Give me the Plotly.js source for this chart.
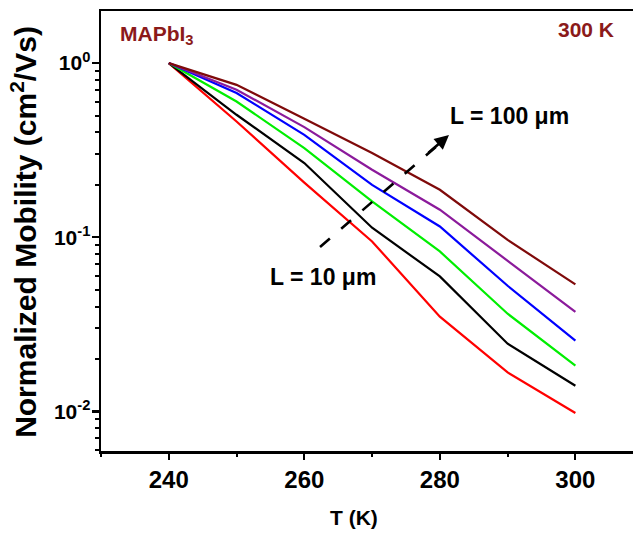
<!DOCTYPE html>
<html>
<head>
<meta charset="utf-8">
<script src="https://cdn.plot.ly/plotly-3.0.1.min.js"></script>
<style>
html,body{margin:0;padding:0;background:#fff;overflow:hidden;}
#chart{width:633px;height:536px;}
</style>
</head>
<body>
<div id="chart"></div>
<script>
// Temperature (K)
var temperature = [240, 250, 260, 270, 280, 290, 300];

// Normalized mobility for increasing L (bottom -> top)
var seriesNames  = ["L = 10 μm", "L = 20 μm", "L = 30 μm", "L = 50 μm", "L = 70 μm", "L = 100 μm"];
var muRed    = [1, 0.462, 0.206, 0.0946, 0.0350, 0.01675, 0.0098];
var muBlack  = [1, 0.505, 0.267, 0.1135, 0.0596, 0.0245, 0.01405];
var muGreen  = [1, 0.602, 0.325, 0.1606, 0.0829, 0.0364, 0.0183];
var muBlue   = [1, 0.673, 0.387, 0.200, 0.1153, 0.0527, 0.0255];
var muPurple = [1, 0.703, 0.429, 0.244, 0.144, 0.0733, 0.0373];
var muMaroon = [1, 0.750, 0.479, 0.305, 0.1874, 0.0966, 0.0536];

var yTickVals = [0.01, 0.1, 1];
var yTickText = ["10<sup>-2</sup>", "10<sup>-1</sup>", "10<sup>0</sup>"];

var seriesValues = [muRed, muBlack, muGreen, muBlue, muPurple, muMaroon];
var seriesColors = ["#ff0000", "#000000", "#00ee00", "#0000ff", "#8b1a9b", "#7f0a0a"];

var traces = seriesValues.map(function (vals, i) {
  return {
    x: temperature, y: vals, type: "scatter", mode: "lines",
    name: seriesNames[i],
    line: {color: seriesColors[i], width: 2.2}
  };
});

// minor log ticks (2..9 in each decade)
var minorVals = [];
[0.001, 0.01, 0.1, 1].forEach(function (d) {
  for (var k = 2; k <= 9; k++) minorVals.push(d * k);
});

var FONT = "Liberation Sans, Arial, sans-serif";
var maroonText = "#8b1a1a";

var layout = {
  width: 633, height: 536,
  margin: {l: 101, r: 0, t: 11, b: 85},
  paper_bgcolor: "#fff", plot_bgcolor: "#fff",
  showlegend: false,
  font: {family: FONT, color: "#000"},
  xaxis: {
    range: [230, 308.5],
    tickmode: "linear", tick0: 240, dtick: 20,
    ticks: "outside", ticklen: 6, tickwidth: 2.2, tickcolor: "#000",
    minor: {dtick: 10, ticks: "outside", ticklen: 3.5, tickwidth: 2, tickcolor: "#000", showgrid: false},
    showline: true, linewidth: 2.5, linecolor: "#000", mirror: true,
    showgrid: false, zeroline: false,
    tickfont: {family: FONT, size: 24, weight: 700, color: "#000"}
  },
  yaxis: {
    type: "log",
    range: [-2.227, 0.299],
    tickmode: "array", tickvals: yTickVals, ticktext: yTickText,
    ticks: "outside", ticklen: 7, tickwidth: 2.2, tickcolor: "#000",
    ticklabelstandoff: -3,
    minor: {tickmode: "array", tickvals: minorVals, ticks: "outside", ticklen: 4, tickwidth: 2, tickcolor: "#000", showgrid: false},
    showline: true, linewidth: 2.5, linecolor: "#000",
    showgrid: false, zeroline: false,
    tickfont: {family: FONT, size: 21, weight: 700, color: "#000"}
  },
  shapes: [{
    type: "line", xref: "paper", yref: "paper",
    x0: 0.4117, y0: 0.4636, x1: 0.6330, y1: 0.6950,
    line: {color: "#000", width: 2.6, dash: "13px,15px"}
  }],
  annotations: [
    {xref: "paper", yref: "paper", x: 0.4756, y: -0.150, xanchor: "center", yanchor: "middle",
     text: "T (K)", showarrow: false,
     font: {family: FONT, size: 21, weight: 700, color: "#000"}},
    {xref: "paper", yref: "paper", x: -0.145, y: 0.4977, xanchor: "center", yanchor: "middle",
     text: "Normalized Mobility (cm<sup>2</sup>/Vs)", showarrow: false, textangle: -90,
     font: {family: FONT, size: 30, weight: 700, color: "#000"}},
    {xref: "paper", yref: "paper", x: 0.032, y: 0.945, xanchor: "left", yanchor: "middle",
     text: "MAPbI<sub>3</sub>", showarrow: false,
     font: {family: FONT, size: 21, weight: 700, color: maroonText}},
    {xref: "paper", yref: "paper", x: 0.968, y: 0.957, xanchor: "right", yanchor: "middle",
     text: "300 K", showarrow: false,
     font: {family: FONT, size: 21, weight: 700, color: maroonText}},
    {xref: "paper", yref: "paper", x: 0.767, y: 0.761, xanchor: "center", yanchor: "middle",
     text: "L = 100 μm", showarrow: false,
     font: {family: FONT, size: 23, weight: 700, color: "#000"}},
    {xref: "paper", yref: "paper", x: 0.417, y: 0.395, xanchor: "center", yanchor: "middle",
     text: "L = 10 μm", showarrow: false,
     font: {family: FONT, size: 23, weight: 700, color: "#000"}},
    {xref: "paper", yref: "paper", x: 0.6541, y: 0.7182, ax: -22, ay: 19,
     text: "", showarrow: true, arrowhead: 2, arrowsize: 1.1, arrowwidth: 2.6, arrowcolor: "#000", standoff: 0}
  ]
};

Plotly.newPlot("chart", traces, layout, {displayModeBar: false, staticPlot: true});
</script>
</body>
</html>
